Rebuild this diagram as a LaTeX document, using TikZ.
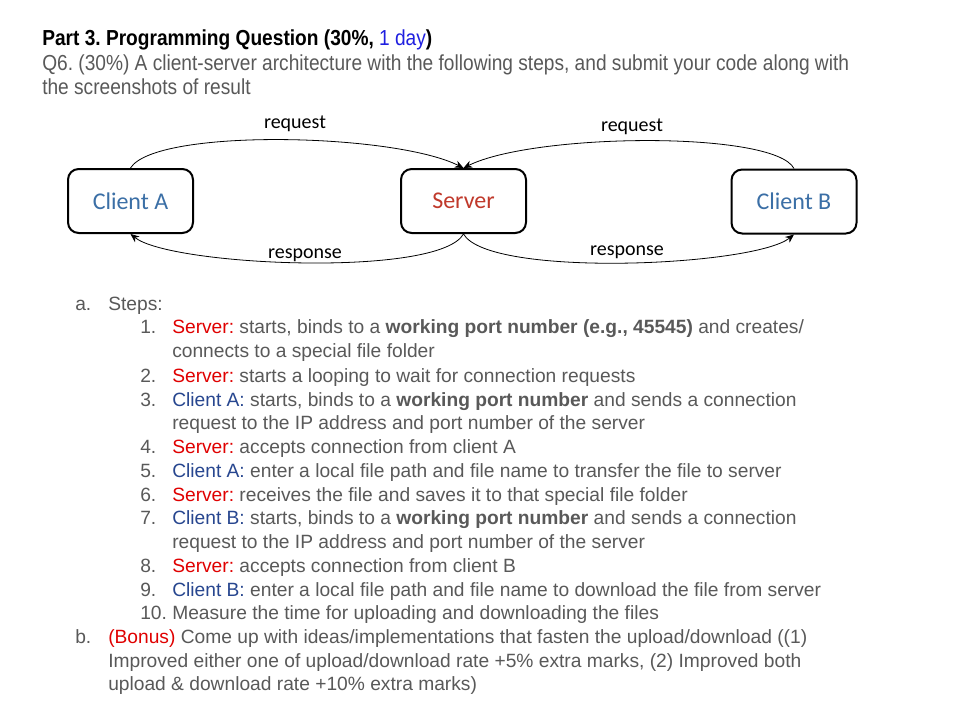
\documentclass[tikz,border=0pt]{standalone}
\usepackage{fontspec}
\setmainfont{Liberation Sans}
\newfontfamily\narrowfont[FakeStretch=0.88]{Liberation Sans}
\newfontfamily\boxfont{Carlito}
\usetikzlibrary{shapes.geometric, arrows, arrows.meta}
\definecolor{txtgray}{HTML}{595959}
\definecolor{listred}{HTML}{E00000}
\definecolor{listblue}{HTML}{27468F}
\definecolor{boxblue}{HTML}{3B6FA6}
\definecolor{boxred}{HTML}{C0392B}
\definecolor{dayblue}{HTML}{1F1FE0}
\newcommand{\srvtag}{\textcolor{listred}{Server:}}
\newcommand{\clatag}{\textcolor{listblue}{Client A:}}
\newcommand{\clbtag}{\textcolor{listblue}{Client B:}}
\tikzstyle{block} = [rectangle, rounded corners=8pt, draw, line width=1.5pt, minimum width=93.75pt, minimum height=48pt, font=\boxfont\fontsize{18}{21}\selectfont]
\tikzstyle{arrow} = [->,>={Stealth[length=6.5pt,width=5.5pt]}, line width=0.6pt]
\tikzstyle{lbl} = [anchor=base, inner sep=0pt, font=\boxfont\fontsize{15}{18}\selectfont]
\tikzstyle{txt} = [anchor=base west, inner sep=0pt, text=txtgray, font=\fontsize{14.4}{17}\selectfont]
\frenchspacing
\begin{document}
\begin{tikzpicture}[x=0.75pt, y=-0.75pt]
    \path[use as bounding box, fill=white] (0,0) rectangle (953,710);
    % heading
    \node [anchor=base west, inner sep=0pt, font=\narrowfont\bfseries\fontsize{16.3}{19}\selectfont] at (42,46) (title) {Part 3. Programming Question (30\%, \textcolor{dayblue}{\mdseries 1 day})};
    \node [txt, font=\narrowfont\fontsize{16.3}{19}\selectfont] at (42,70) (q6a) {Q6. (30\%) A client-server architecture with the following steps, and submit your code along with};
    \node [txt, font=\narrowfont\fontsize{16.3}{19}\selectfont] at (42,94) (q6b) {the screenshots of result};
    % diagram
    \node [block] at (130.5,201) (ca) {\textcolor{boxblue}{Client A}};
    \node [block] at (463.5,201) (srv) {\textcolor{boxred}{Server}};
    \node [block] at (794,201.5) (cb) {\textcolor{boxblue}{Client B}};
    \draw [arrow] (ca.north) .. controls +(25,-40) and +(-70,-35) .. (srv.north);
    \draw [arrow] (cb.north) .. controls +(-20,-38) and +(70,-35) .. (srv.north);
    \draw [arrow] (srv.south) .. controls +(-25,44) and +(40,32) .. (ca.south);
    \draw [arrow] (srv.south) .. controls +(25,44) and +(-40,32) .. (cb.south);
    \node [lbl] at (295,128) (reqa) {request};
    \node [lbl] at (632,132) (reqb) {request};
    \node [lbl] at (305,258) (resa) {response};
    \node [lbl] at (627,255) (resb) {response};
    % steps
    \node [txt] at (75,310) (a) {a.};
    \node [txt] at (108,310) (steps) {Steps:};
    \node [txt] at (140,333) (n1) {1.};
    \node [txt] at (172,333) (s1a) {\srvtag{} starts, binds to a \textbf{working port number (e.g., 45545)} and creates/};
    \node [txt] at (172,357) (s1b) {connects to a special file folder};
    \node [txt] at (140,382) (n2) {2.};
    \node [txt] at (172,382) (s2) {\srvtag{} starts a looping to wait for connection requests};
    \node [txt] at (140,406) (n3) {3.};
    \node [txt] at (172,406) (s3a) {\clatag{} starts, binds to a \textbf{working port number} and sends a connection};
    \node [txt] at (172,429) (s3b) {request to the IP address and port number of the server};
    \node [txt] at (140,453) (n4) {4.};
    \node [txt] at (172,453) (s4) {\srvtag{} accepts connection from client A};
    \node [txt] at (140,477) (n5) {5.};
    \node [txt] at (172,477) (s5) {\clatag{} enter a local file path and file name to transfer the file to server};
    \node [txt] at (140,501) (n6) {6.};
    \node [txt] at (172,501) (s6) {\srvtag{} receives the file and saves it to that special file folder};
    \node [txt] at (140,524) (n7) {7.};
    \node [txt] at (172,524) (s7a) {\clbtag{} starts, binds to a \textbf{working port number} and sends a connection};
    \node [txt] at (172,548) (s7b) {request to the IP address and port number of the server};
    \node [txt] at (140,572) (n8) {8.};
    \node [txt] at (172,572) (s8) {\srvtag{} accepts connection from client B};
    \node [txt] at (140,596) (n9) {9.};
    \node [txt] at (172,596) (s9) {\clbtag{} enter a local file path and file name to download the file from server};
    \node [txt] at (140,619) (n10) {10.};
    \node [txt] at (172,619) (s10) {Measure the time for uploading and downloading the files};
    \node [txt] at (75,643) (b) {b.};
    \node [txt] at (108,643) (bonusa) {\textcolor{listred}{(Bonus)} Come up with ideas/implementations that fasten the upload/download ((1)};
    \node [txt] at (108,667) (bonusb) {Improved either one of upload/download rate +5\% extra marks, (2) Improved both};
    \node [txt] at (108,690) (bonusc) {upload \& download rate +10\% extra marks)};
\end{tikzpicture}
\end{document}
